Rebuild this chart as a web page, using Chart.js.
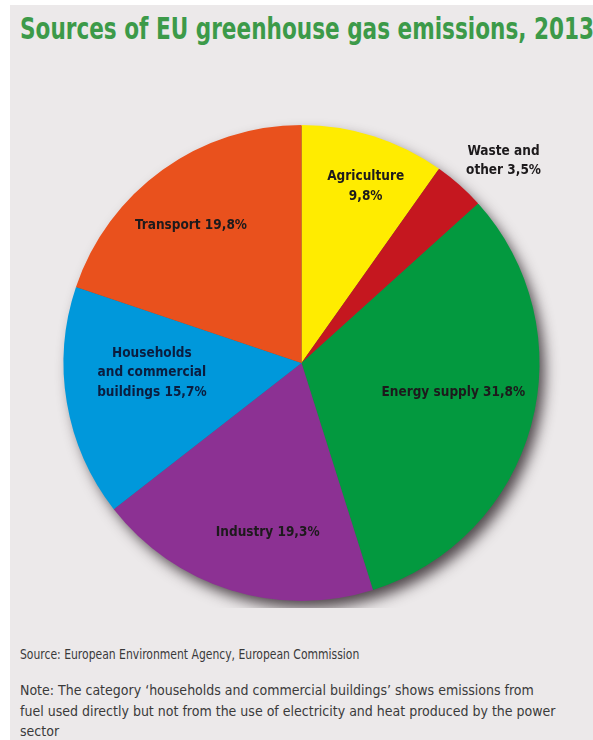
<!DOCTYPE html>
<html>
<head>
<meta charset="utf-8">
<script src="https://cdn.jsdelivr.net/npm/chart.js@4.4.1/dist/chart.umd.min.js"></script>
<style>
  html, body { margin: 0; padding: 0; background: #fff; }
  .panel {
    position: absolute; left: 10px; top: 5px;
    width: 583px; height: 735px;
    background: #ece9ea;
    overflow: hidden;
    font-family: 'DejaVu Sans Condensed', 'Liberation Sans', sans-serif;
  }
  .panel h1 {
    position: absolute; left: 10px; top: 6px; margin: 0;
    font-size: 30px; font-weight: bold; color: #3c9a49;
    white-space: nowrap;
    transform: scaleX(0.8); transform-origin: left center;
  }
  .chart-box { position: absolute; left: 0; top: 113px; width: 583px; height: 490px; }
  .foot {
    position: absolute; left: 10px; color: #3a3a3a;
    white-space: nowrap; transform-origin: left top;
  }
  .source { top: 641px; font-size: 13.5px; transform: scaleX(0.89); }
  .note { top: 675px; font-size: 14px; line-height: 20.5px; transform: scaleX(1); }
</style>
</head>
<body>
<div class="panel">
  <h1>Sources of EU greenhouse gas emissions, 2013</h1>
  <div class="chart-box"><canvas id="pie"></canvas></div>
  <div class="foot source">Source: European Environment Agency, European Commission</div>
  <div class="foot note">Note: The category ‘households and commercial buildings’ shows emissions from<br>fuel used directly but not from the use of electricity and heat produced by the power<br>sector</div>
</div>
<script>
// slices clockwise from 12 o'clock
const categories = ['Agriculture', 'Waste and other', 'Energy supply', 'Industry', 'Households and commercial buildings', 'Transport'];
const shares     = [9.8, 3.5, 31.8, 19.3, 15.7, 19.8];
const colours    = ['#ffec00', '#c5171f', '#03993f', '#8c3193', '#0098db', '#e9511d'];
// how each slice label is broken into lines, {v} = the value
const labelLines = [
  ['Agriculture', '{v}'],
  ['Waste and', 'other {v}'],
  ['Energy supply {v}'],
  ['Industry {v}'],
  ['Households', 'and commercial', 'buildings {v}'],
  ['Transport {v}']
];

const fmt = v => v.toFixed(1).replace('.', ',') + '%';

// soft drop shadow under the whole disc
const discShadow = {
  id: 'discShadow',
  beforeDatasetsDraw(chart) {
    const arc = chart.getDatasetMeta(0).data[0];
    if (!arc) return;
    const ctx = chart.ctx;
    ctx.save();
    ctx.shadowColor = 'rgba(40,30,35,0.8)';
    ctx.shadowBlur = 14;
    ctx.shadowOffsetX = 6;
    ctx.shadowOffsetY = 8;
    ctx.fillStyle = '#555';
    ctx.beginPath();
    ctx.arc(arc.x, arc.y, arc.outerRadius - 1, 0, Math.PI * 2);
    ctx.fill();
    ctx.restore();
  }
};

// label placement: fraction of radius + angle nudge (deg) from slice middle
const labelPos = [
  { rf: 0.79, da: 2.3 },
  { rf: 1.20, da: 3.4 },
  { rf: 0.65, da: -4.2 },
  { rf: 0.725, da: -6 },
  { rf: 0.63, da: 6 },
  { rf: 0.74, da: -3.2 }
];

const sliceLabels = {
  id: 'sliceLabels',
  afterDatasetsDraw(chart) {
    const ctx = chart.ctx;
    const meta = chart.getDatasetMeta(0);
    ctx.save();
    ctx.font = "bold 13.5px 'DejaVu Sans Condensed', sans-serif";
    ctx.textAlign = 'center';
    ctx.textBaseline = 'middle';
    meta.data.forEach((arc, i) => {
      const p = labelPos[i];
      const a = (arc.startAngle + arc.endAngle) / 2 + p.da * Math.PI / 180;
      const r = arc.outerRadius * p.rf;
      const x = arc.x + Math.cos(a) * r;
      const y = arc.y + Math.sin(a) * r;
      const lines = labelLines[i].map(s => s.replace('{v}', fmt(shares[i])));
      const lh = 19.5;
      ctx.fillStyle = i === 4 ? '#0b1d3f' : '#1d1a1c';
      lines.forEach((s, k) => {
        ctx.fillText(s, x, y + (k - (lines.length - 1) / 2) * lh);
      });
    });
    ctx.restore();
  }
};

new Chart(document.getElementById('pie'), {
  type: 'pie',
  data: {
    labels: categories,
    datasets: [{
      data: shares,
      backgroundColor: colours,
      borderWidth: 0
    }]
  },
  options: {
    responsive: true,
    maintainAspectRatio: false,
    animation: false,
    layout: { padding: 7 },
    plugins: {
      legend: { display: false },
      tooltip: { enabled: false }
    }
  },
  plugins: [discShadow, sliceLabels]
});
</script>
</body>
</html>
